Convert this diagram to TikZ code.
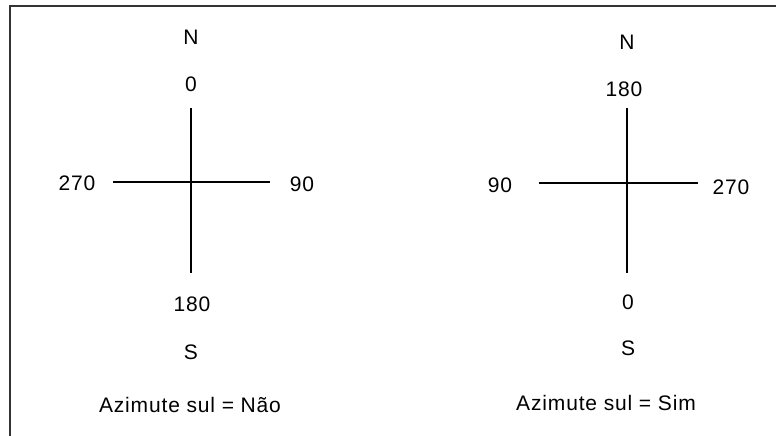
\documentclass[tikz,border=0pt]{standalone}
\usepackage{fontspec}
\setmainfont{Liberation Sans}[LetterSpace=4]
\begin{document}
\begin{tikzpicture}[x=1pt,y=-1pt,
  lbl/.style={inner sep=0pt,font=\fontsize{21}{24}\selectfont},
  arm/.style={line width=2pt,black},
  frameline/.style={line width=2pt,black!80}]
\useasboundingbox (0,0) rectangle (776,436);
% frame
\coordinate (fbl) at (10,436);
\coordinate (ftl) at (10,6);
\coordinate (ftr) at (776,6);
\draw[frameline] (fbl) -- (ftl) -- (ftr);
% left compass
\coordinate (lt) at (191,108);
\coordinate (lb) at (191,273);
\coordinate (ll) at (113,182);
\coordinate (lr) at (270,182);
\draw[arm] (lt) -- (lb);
\draw[arm] (ll) -- (lr);
\node[lbl] (lN) at (191,37) {N};
\node[lbl] (l0) at (191,84) {0};
\node[lbl] (l270) at (77,183) {270};
\node[lbl] (l90) at (302,184) {90};
\node[lbl] (l180) at (192,304) {180};
\node[lbl] (lS) at (191,352) {S};
\node[lbl] (lcap) at (190,405) {Azimute sul = Não};
% right compass
\coordinate (rt) at (627,108);
\coordinate (rb) at (627,273);
\coordinate (rl) at (539,183);
\coordinate (rr) at (698,183);
\draw[arm] (rt) -- (rb);
\draw[arm] (rl) -- (rr);
\node[lbl] (rN) at (627,42) {N};
\node[lbl] (r180) at (624,89) {180};
\node[lbl] (r90) at (500,185) {90};
\node[lbl] (r270) at (731,187) {270};
\node[lbl] (r0) at (628,302) {0};
\node[lbl] (rS) at (628,348) {S};
\node[lbl] (rcap) at (606,403) {Azimute sul = Sim};
\end{tikzpicture}
\end{document}
